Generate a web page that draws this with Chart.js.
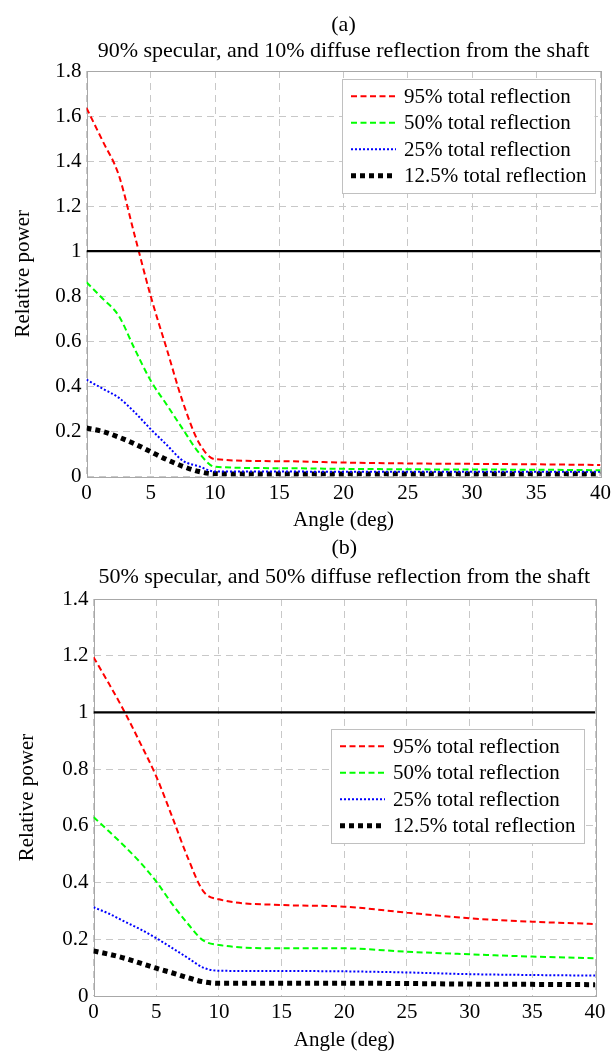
<!DOCTYPE html>
<html>
<head>
<meta charset="utf-8">
<script src="https://cdn.jsdelivr.net/npm/chart.js@4.4.0/dist/chart.umd.min.js"></script>
<style>
  html, body { margin: 0; padding: 0; background: #fff; overflow: hidden; }
  canvas { position: absolute; left: 0; }
  #chartA { top: 0; }
  #chartB { top: 535px; }
</style>
</head>
<body>
<canvas id="chartA" width="615" height="536"></canvas>
<canvas id="chartB" width="615" height="521"></canvas>
<script>
// angle samples (deg)
const angles = [0, 1.25, 2.5, 3.75, 5, 6.25, 7.5, 8.75, 10, 15, 20, 25, 30, 35, 40];
const seriesLabels = ['95% total reflection', '50% total reflection', '25% total reflection', '12.5% total reflection'];
const refLevel = 1;

// (a) 90% specular, 10% diffuse
const r95a = [1.636, 1.49, 1.34, 1.07, 0.80, 0.565, 0.33, 0.15, 0.077, 0.068, 0.062, 0.058, 0.056, 0.054, 0.051];
const g50a = [0.862, 0.79, 0.714, 0.566, 0.425, 0.318, 0.21, 0.105, 0.043, 0.037, 0.034, 0.032, 0.031, 0.030, 0.028];
const b25a = [0.43, 0.39, 0.35, 0.285, 0.21, 0.14, 0.07, 0.045, 0.022, 0.022, 0.021, 0.021, 0.021, 0.021, 0.021];
const k125a = [0.215, 0.2, 0.175, 0.145, 0.11, 0.075, 0.045, 0.022, 0.012, 0.011, 0.011, 0.011, 0.011, 0.011, 0.011];

// (b) 50% specular, 50% diffuse
const r95b = [1.195, 1.10, 1.0, 0.89, 0.775, 0.635, 0.49, 0.37, 0.341, 0.321, 0.315, 0.294, 0.274, 0.262, 0.254];
const g50b = [0.631, 0.58, 0.527, 0.47, 0.404, 0.326, 0.256, 0.196, 0.18, 0.168, 0.168, 0.156, 0.147, 0.139, 0.133];
const b25b = [0.313, 0.29, 0.262, 0.235, 0.204, 0.17, 0.135, 0.1, 0.089, 0.088, 0.087, 0.083, 0.077, 0.074, 0.072];
const k125b = [0.159, 0.147, 0.133, 0.116, 0.098, 0.082, 0.065, 0.05, 0.045, 0.045, 0.045, 0.044, 0.042, 0.041, 0.040];

const FONT = "'Liberation Serif', 'Times New Roman', serif";
Chart.defaults.font.family = FONT;
Chart.defaults.color = '#000';

const styles = [
  { borderColor: '#ff0000', borderWidth: 2, borderDash: [6, 3.5] },
  { borderColor: '#00ff00', borderWidth: 2, borderDash: [6, 3.5] },
  { borderColor: '#0000ff', borderWidth: 2, borderDash: [2, 2] },
  { borderColor: '#000000', borderWidth: 5, borderDash: [5, 4] }
];

const pts = ys => angles.map((a, i) => ({ x: a, y: ys[i] }));

// grey box round the plot area
const frame = {
  id: 'frame',
  beforeDatasetsDraw(chart) {
    const { ctx, chartArea: a } = chart;
    ctx.save();
    ctx.strokeStyle = '#a8a8a8';
    ctx.lineWidth = 1;
    ctx.strokeRect(Math.round(a.left) + 0.5, Math.round(a.top) + 0.5,
      Math.round(a.right - a.left), Math.round(a.bottom - a.top));
    ctx.restore();
  }
};

// MATLAB style legend box inside the axes
const boxLegend = {
  id: 'boxLegend',
  afterDatasetsDraw(chart, args, opts) {
    const { ctx, chartArea: area } = chart;
    const items = chart.data.datasets.filter(d => !d.hideInLegend);
    ctx.save();
    ctx.font = '21px ' + FONT;
    const textW = Math.max(...items.map(d => ctx.measureText(d.label).width));
    const w = 9 + 45 + 8 + textW + 8;
    const rowH = 26.5;
    const h = rowH * items.length + 8;
    const x0 = Math.round(area.right - opts.right - w);
    const y0 = Math.round(area.top + opts.top);
    ctx.fillStyle = '#fff';
    ctx.fillRect(x0, y0, w, h);
    ctx.strokeStyle = '#c0c0c0';
    ctx.lineWidth = 1;
    ctx.strokeRect(x0 + 0.5, y0 + 0.5, Math.round(w), Math.round(h));
    items.forEach((d, i) => {
      const y = y0 + 4 + rowH * (i + 0.5);
      ctx.beginPath();
      ctx.setLineDash(d.borderDash || []);
      ctx.strokeStyle = d.borderColor;
      ctx.lineWidth = d.borderWidth;
      ctx.moveTo(x0 + 9, y);
      ctx.lineTo(x0 + 9 + 45, y);
      ctx.stroke();
      ctx.setLineDash([]);
      ctx.fillStyle = '#000';
      ctx.textBaseline = 'middle';
      ctx.textAlign = 'left';
      ctx.fillText(d.label, x0 + 9 + 45 + 8, y + 1);
    });
    ctx.restore();
  }
};

function makeChart(id, series, cfg) {
  const datasets = series.map((ys, i) => Object.assign({
    label: seriesLabels[i],
    data: pts(ys),
    fill: false,
    pointRadius: 0,
    cubicInterpolationMode: 'monotone'
  }, styles[i]));
  datasets.push({
    label: 'ref',
    hideInLegend: true,
    data: [{ x: angles[0], y: refLevel }, { x: angles[angles.length - 1], y: refLevel }],
    borderColor: '#000',
    borderWidth: 2.2,
    pointRadius: 0,
    fill: false
  });
  // reference line sits under the curves
  datasets.unshift(datasets.pop());

  return new Chart(document.getElementById(id), {
    type: 'line',
    data: { datasets },
    plugins: [frame, boxLegend],
    options: {
      responsive: false,
      animation: false,
      events: [],
      layout: { padding: { left: 0, right: cfg.padRight, top: 0, bottom: 0 } },
      plugins: {
        legend: { display: false },
        tooltip: { enabled: false },
        title: {
          display: true,
          fullSize: false,
          text: cfg.title,
          font: { size: 22, weight: 'normal' },
          padding: { top: cfg.titleTop, bottom: 0 }
        },
        subtitle: {
          display: true,
          fullSize: false,
          text: cfg.subtitle,
          color: '#000',
          font: { size: 22, weight: 'normal' },
          padding: { top: cfg.subTop, bottom: cfg.subBottom }
        },
        boxLegend: cfg.legend
      },
      scales: {
        x: {
          type: 'linear',
          min: 0,
          max: 40,
          afterFit: s => { s.height = cfg.xAxisH; },
          ticks: { stepSize: 5, padding: 4, font: { size: 21 } },
          grid: { color: '#c8c8c8', lineWidth: 1, drawTicks: false },
          border: { display: false, dash: [7, 5] },
          title: { display: true, text: 'Angle (deg)', font: { size: 21 }, padding: { top: 3.4, bottom: 3.4 } }
        },
        y: {
          min: 0,
          max: cfg.yMax,
          afterFit: s => { s.width = cfg.yAxisW; },
          ticks: {
            stepSize: 0.2,
            padding: 5,
            font: { size: 21 },
            callback: v => String(+v.toFixed(1))
          },
          grid: { color: '#c8c8c8', lineWidth: 1, drawTicks: false },
          border: { display: false, dash: [7, 5] },
          title: { display: true, text: 'Relative power', font: { size: 21 }, padding: { top: cfg.yTitlePad, bottom: cfg.yTitlePad } }
        }
      }
    }
  });
}

makeChart('chartA', [r95a, g50a, b25a, k125a], {
  title: '(a)',
  subtitle: '90% specular, and 10% diffuse reflection from the shaft',
  titleTop: 12, subTop: 0, subBottom: 6.2,
  yMax: 1.8, yAxisW: 86.5, xAxisH: 59.5, padRight: 14.3, yTitlePad: 11,
  legend: { right: 6.4, top: 8.3 }
});

makeChart('chartB', [r95b, g50b, b25b, k125b], {
  title: '(b)',
  subtitle: '50% specular, and 50% diffuse reflection from the shaft',
  titleTop: 0, subTop: 2.4, subBottom: 8.8,
  yMax: 1.4, yAxisW: 93.5, xAxisH: 60, padRight: 20, yTitlePad: 15,
  legend: { right: 11.7, top: 130.3 }
});
</script>
</body>
</html>
